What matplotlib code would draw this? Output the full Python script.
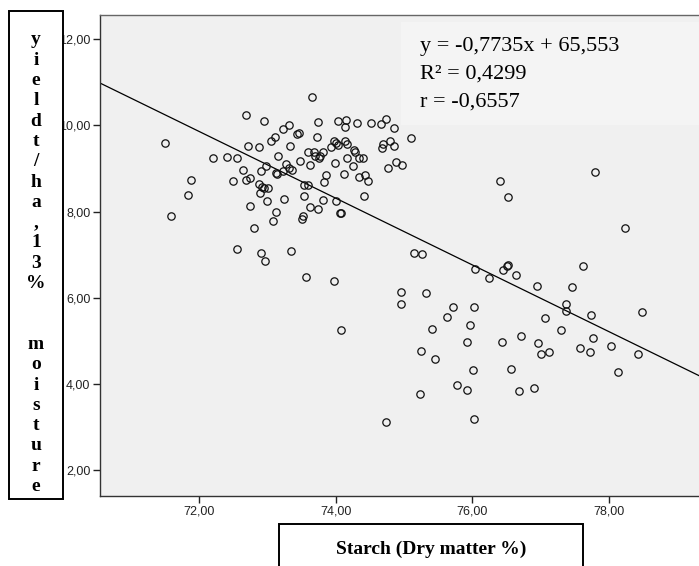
import matplotlib
matplotlib.use("Agg")
import matplotlib.pyplot as plt
from matplotlib.patches import Rectangle
from matplotlib.ticker import FuncFormatter

# starch (dry matter %) vs yield (t/ha, 13% moisture)
starch = [72.69, 72.95, 73.31, 73.23, 73.11, 73.06, 73.44, 73.47, 73.74, 73.73,
          74.03, 74.15, 74.13, 74.31, 74.52, 74.66, 74.74, 74.85, 71.50, 72.72,
          72.88, 73.33, 73.97, 74.00, 74.03, 74.14, 74.17, 74.69, 74.68, 74.80,
          74.85, 72.21, 72.41, 72.55, 73.15, 73.60, 73.68, 73.70, 73.75, 73.77,
          73.82, 73.93, 74.27, 74.28, 74.16, 74.34, 74.40, 74.88, 74.77, 73.48,
          73.62, 73.99, 74.25, 72.64, 72.91, 72.98, 73.13, 73.14, 73.23, 73.27,
          73.31, 73.36, 73.86, 74.12, 74.34, 74.43, 74.48, 71.88, 72.50, 72.69,
          72.74, 72.88, 72.92, 72.95, 73.01, 72.89, 73.53, 73.60, 73.83, 71.84,
          72.99, 73.24, 73.53, 73.81, 74.01, 74.42, 72.75, 73.62, 73.74, 73.12,
          73.09, 73.52, 73.51, 74.07, 74.08, 71.59, 72.81, 72.56, 72.91, 72.96,
          73.35, 73.56, 73.97, 74.95, 74.95, 74.08, 74.74,
          76.40, 76.52, 78.24, 75.14, 75.26, 76.04, 76.25, 76.45, 76.51, 76.52,
          76.64, 77.62, 76.95, 77.46, 77.37, 77.37, 77.74, 78.49, 75.33, 75.72,
          76.03, 75.63, 75.96, 75.41, 77.06, 77.30, 77.77, 75.93, 76.44, 76.72,
          76.97, 77.00, 77.13, 77.58, 77.72, 78.03, 78.42, 75.25, 75.46, 76.01,
          76.57, 78.14, 75.78, 75.92, 76.69, 76.90, 75.23, 76.03,
          73.65, 75.10, 74.97, 77.80]
yield_t = [10.24, 10.11, 10.02, 9.91, 9.74, 9.64, 9.79, 9.83, 10.09, 9.73,
           10.11, 10.12, 9.97, 10.06, 10.05, 10.04, 10.15, 9.93, 9.59, 9.53,
           9.51, 9.53, 9.63, 9.59, 9.55, 9.63, 9.56, 9.56, 9.47, 9.63,
           9.52, 9.25, 9.26, 9.25, 9.28, 9.39, 9.38, 9.28, 9.25, 9.28,
           9.39, 9.51, 9.43, 9.39, 9.25, 9.25, 9.25, 9.16, 9.02, 9.17,
           9.08, 9.12, 9.05, 8.97, 8.95, 9.05, 8.89, 8.88, 8.94, 9.10,
           9.02, 8.97, 8.85, 8.88, 8.80, 8.84, 8.72, 8.74, 8.70, 8.74,
           8.78, 8.64, 8.57, 8.54, 8.56, 8.44, 8.61, 8.61, 8.68, 8.39,
           8.24, 8.29, 8.36, 8.28, 8.24, 8.37, 8.13, 8.10, 8.06, 8.00,
           7.79, 7.89, 7.82, 7.98, 7.96, 7.90, 7.62, 7.13, 7.04, 6.85,
           7.08, 6.48, 6.39, 6.14, 5.85, 5.26, 3.12,
           8.71, 8.33, 7.63, 7.05, 7.02, 6.66, 6.46, 6.65, 6.75, 6.77,
           6.53, 6.74, 6.27, 6.25, 5.87, 5.70, 5.61, 5.67, 6.11, 5.79,
           5.79, 5.55, 5.38, 5.27, 5.53, 5.26, 5.07, 4.97, 4.99, 5.11,
           4.95, 4.70, 4.75, 4.84, 4.74, 4.89, 4.69, 4.78, 4.59, 4.32,
           4.35, 4.28, 3.98, 3.86, 3.85, 3.92, 3.78, 3.20,
           10.65, 9.70, 9.08, 8.93]

slope, intercept = -0.7735, 65.553
eq_lines = ["y = -0,7735x + 65,553", "R\u00b2 = 0,4299", "r = -0,6557"]
x_ticks = [72, 74, 76, 78]
y_ticks = [2, 4, 6, 8, 10, 12]
ylab_chars = list("yieldt/ha,13%") + ["", ""] + list("moisture")
xlabel = "Starch (Dry matter %)"

W, H = 699, 566
fig = plt.figure(figsize=(W / 100, H / 100), dpi=100)
ax = fig.add_axes([100 / W, 1 - 495.5 / H, 1 - 100 / W, (495.5 - 15) / H])
ax.set_facecolor("#f0f0f0")
xlo, xhi = 70.55, 79.32
ax.set_xlim(xlo, xhi)
ax.set_ylim(1.42, 12.56)

# light panel behind the equation text
ax.add_patch(Rectangle((401 / W, 1 - 125 / H), 1, (125 - 22) / H,
                       transform=fig.transFigure, facecolor="#f4f4f4",
                       edgecolor="none", zorder=0.5))

ax.plot(starch, yield_t, linestyle="none", marker="o", markersize=5.3,
        markerfacecolor="none", markeredgecolor="#111111",
        markeredgewidth=0.9, zorder=3)
ax.plot([xlo, xhi], [slope * xlo + intercept, slope * xhi + intercept],
        color="black", lw=0.9, zorder=2)

for i, s in enumerate(eq_lines):
    fig.text(420 / W, 1 - (47 + i * 27.5) / H, s, ha="left", va="center",
             family="Liberation Serif", fontsize=16, color="black")

fmt = FuncFormatter(lambda v, p: f"{v:.2f}".replace(".", ","))
ax.set_xticks(x_ticks)
ax.set_yticks(y_ticks)
ax.xaxis.set_major_formatter(fmt)
ax.yaxis.set_major_formatter(fmt)
ax.tick_params(direction="out", length=5, width=1, color="#222222",
               labelsize=9, pad=2)
for lab in ax.get_xticklabels() + ax.get_yticklabels():
    lab.set_family("Liberation Sans")
    lab.set_color("#222222")
ax.spines["right"].set_visible(False)
for k in ["left", "bottom", "top"]:
    ax.spines[k].set_color("#333333")
    ax.spines[k].set_linewidth(1.0)
ax.spines["top"].set_color("#666666")

# boxed y label, one character per row
fig.add_artist(Rectangle((9 / W, 1 - 499 / H), 54 / W, 488 / H,
                         transform=fig.transFigure, facecolor="white",
                         edgecolor="black", lw=1.4))
for i, ch in enumerate(ylab_chars):
    if ch:
        fig.text(36 / W, 1 - (40 + i * 20.3) / H, ch, ha="center", va="center",
                 family="Liberation Serif", fontweight="bold", fontsize=14)

# boxed x label
fig.add_artist(Rectangle((279 / W, 1 - 590 / H), 304 / W, 66 / H,
                         transform=fig.transFigure, facecolor="white",
                         edgecolor="black", lw=1.4))
fig.text(431 / W, 1 - 549 / H, xlabel, ha="center", va="center",
         family="Liberation Serif", fontweight="bold", fontsize=14)

fig.savefig("out.png", dpi=100)
